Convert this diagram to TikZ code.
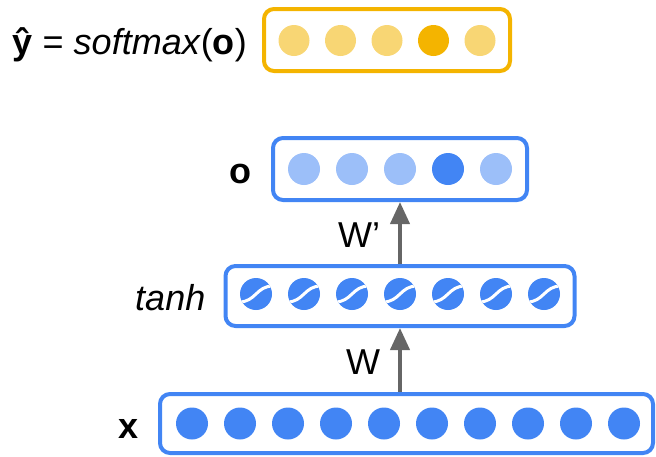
\documentclass[tikz,border=0pt]{standalone}
\usepackage{fontspec}
\setmainfont{Liberation Sans}
\usetikzlibrary{arrows.meta}
\usetikzlibrary{positioning}
\definecolor{gblue}{HTML}{4285F4}
\definecolor{gbluelight}{HTML}{9CBFF9}
\definecolor{gyellow}{HTML}{F4B400}
\definecolor{gyellowlight}{HTML}{F8D674}
\definecolor{arrowgray}{HTML}{666666}

\begin{document}
\begin{tikzpicture}[x=1pt,y=-1pt]
  \tikzset{layer/.style = {draw=gblue, line width=4pt, rounded corners=10pt, minimum height=62pt, inner sep=0pt}}
  \tikzset{unit/.style = {shape=circle, minimum size=32pt, inner sep=0pt}}
  \tikzset{tanhunit/.style = {unit, fill=gblue, path picture={
      \draw[white, line width=3pt, shift={(path picture bounding box.center)}]
        (-17,8) .. controls (0,8) and (0,-8) .. (17,-8);}}}
  \tikzset{lbl/.style = {inner sep=0pt, text height=33pt, text depth=4pt, font=\fontsize{36}{40}\selectfont}}
  \tikzset{conn/.style = {draw=arrowgray, line width=4pt, -{Triangle[width=19pt,length=22pt]}}}

  \useasboundingbox (0,0) rectangle (656,456);

  % layers, bottom to top
  \node[layer, minimum width=493pt, minimum height=59pt] (xbox) at (406.5,423.5) {};
  \node[layer, minimum width=349pt, minimum height=60pt] (hbox) at (400,296) {};
  \node[layer, minimum width=254pt] (obox) at (400,169) {};
  \node[layer, draw=gyellow, minimum width=246pt] (ybox) at (387,40) {};

  % units
  \foreach \i in {0,...,9}
    \node[unit, fill=gblue] (x\i) at (192+48*\i,423.5) {};
  \foreach \i in {0,...,6}
    \node[tanhunit] (h\i) at (256+48*\i,294) {};
  \foreach \i/\c in {0/gbluelight,1/gbluelight,2/gbluelight,3/gblue,4/gbluelight}
    \node[unit, fill=\c] (o\i) at (304+48*\i,169) {};
  \foreach \i/\c in {0/gyellowlight,1/gyellowlight,2/gyellowlight,3/gyellow,4/gyellowlight}
    \node[unit, fill=\c, minimum size=31pt] (y\i) at (294+46.5*\i,40.5) {};

  % names
  \node[lbl, left=19pt of xbox] (xname) {\textbf{x}};
  \node[lbl, left=18pt of hbox] (hname) {\textit{tanh}};
  \node[lbl, left=19pt of obox] (oname) {\textbf{o}};
  \node[lbl, left=15pt of ybox] (yname) {\textbf{ŷ} = \textit{softmax}(\textbf{o})};

  % weights
  \draw[conn] (xbox.north -| hbox.south) -- node[lbl, left=18pt] {W} (hbox.south);
  \draw[conn] (hbox.north) -- node[lbl, left=18pt] {W’} (obox.south);
\end{tikzpicture}
\end{document}
